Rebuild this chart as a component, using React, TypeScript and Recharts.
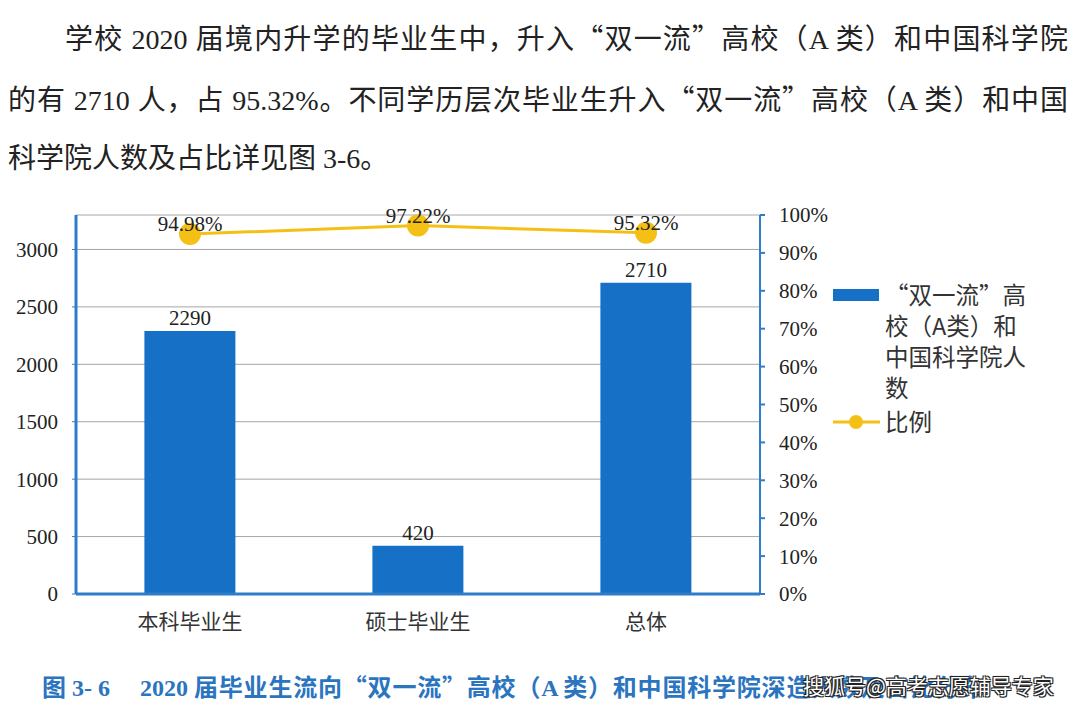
import { ComposedChart, Bar, Line, XAxis, YAxis, CartesianGrid, LabelList } from "recharts";

const categories = ["本科毕业生", "硕士毕业生", "总体"];
const counts = [2290, 420, 2710];
const ratios = [0.9498, 0.9722, 0.9532];
const countTicks = [0, 500, 1000, 1500, 2000, 2500, 3000];
const ratioTicks = [0, 0.1, 0.2, 0.3, 0.4, 0.5, 0.6, 0.7, 0.8, 0.9, 1];

const data = categories.map((name, i) => ({ name, count: counts[i], ratio: ratios[i] }));

const BLUE = "#1570c6";
const AXIS = "#2f7dc8";
const GOLD = "#f5c016";
const SERIF = "'Liberation Serif', 'Noto Sans CJK SC', serif";
const SANS = "'Noto Sans CJK SC', sans-serif";

const pct = (v: number) => `${(v * 100).toFixed(2)}%`;

// full-width quotes need the CJK font
const Q = ({ children }: { children: string }) => <span style={{ fontFamily: SANS }}>{children}</span>;

function LegendBox() {
  return (
    <div style={{ position: "absolute", left: 833, top: 279, fontFamily: SANS, fontSize: 23.5, color: "#333", lineHeight: "31px" }}>
      <div style={{ display: "flex", alignItems: "flex-start" }}>
        <div style={{ width: 46, height: 12, background: BLUE, marginTop: 10, marginRight: 6 }} />
        <div>
          “双一流”高<br />校（A类）和<br />中国科学院人<br />数
        </div>
      </div>
      <div style={{ display: "flex", alignItems: "center", marginTop: 3 }}>
        <svg width={47} height={20} style={{ marginRight: 5 }}>
          <line x1={0} y1={10} x2={47} y2={10} stroke={GOLD} strokeWidth={3} />
          <circle cx={23} cy={10} r={7} fill={GOLD} />
        </svg>
        <span>比例</span>
      </div>
    </div>
  );
}

export default function App() {
  return (
    <div style={{ position: "fixed", left: 0, top: 0, width: 1080, height: 705, background: "#fff", overflow: "hidden" }}>
      {/* paragraph */}
      <div style={{ position: "absolute", left: 8, top: 8, width: 1060, fontFamily: SERIF, fontSize: 28, lineHeight: "58px", color: "#222" }}>
        <div style={{ paddingLeft: 57, textAlign: "justify", textAlignLast: "justify" }}>
          学校 2020 届境内升学的毕业生中，升入<Q>“</Q>双一流<Q>”</Q>高校（A 类）和中国科学院
        </div>
        <div style={{ textAlign: "justify", textAlignLast: "justify" }}>
          的有 2710 人，占 95.32%。不同学历层次毕业生升入<Q>“</Q>双一流<Q>”</Q>高校（A 类）和中国
        </div>
        <div>科学院人数及占比详见图 3-6。</div>
      </div>

      <div style={{ position: "absolute", left: 0, top: 195 }}>
        <ComposedChart width={830} height={460} data={data} margin={{ top: 20, right: 0, bottom: 0, left: 0 }} barCategoryGap="30%">
          <CartesianGrid yAxisId="left" vertical={false} stroke="#a6a6a6" strokeWidth={1} />
          <XAxis
            dataKey="name"
            height={61}
            axisLine={{ stroke: AXIS, strokeWidth: 3 }}
            tickLine={false}
            tickMargin={14}
            tick={{ fill: "#333", fontSize: 21, fontFamily: SANS }}
          />
          <YAxis
            yAxisId="left"
            width={76}
            domain={[0, 3300]}
            ticks={countTicks}
            interval={0}
            axisLine={{ stroke: AXIS, strokeWidth: 3 }}
            tickLine={{ stroke: AXIS }}
            tickSize={4}
            tickMargin={14}
            tick={{ fill: "#222", fontSize: 21, fontFamily: SERIF }}
          />
          <YAxis
            yAxisId="right"
            orientation="right"
            width={70}
            domain={[0, 1]}
            ticks={ratioTicks}
            interval={0}
            tickFormatter={(v: number) => `${Math.round(v * 100)}%`}
            axisLine={{ stroke: AXIS, strokeWidth: 2 }}
            tickLine={{ stroke: AXIS, strokeWidth: 2 }}
            tickSize={5}
            tickMargin={14}
            tick={{ fill: "#222", fontSize: 21, fontFamily: SERIF, textAnchor: "start" }}
          />
          <Bar yAxisId="left" dataKey="count" fill={BLUE} isAnimationActive={false}>
            <LabelList dataKey="count" position="top" offset={6} fill="#222" fontSize={21} fontFamily={SERIF} />
          </Bar>
          <Line
            yAxisId="right"
            dataKey="ratio"
            stroke={GOLD}
            strokeWidth={3}
            dot={{ r: 11, fill: GOLD, stroke: GOLD, strokeWidth: 0 }}
            activeDot={false}
            isAnimationActive={false}
          >
            <LabelList dataKey="ratio" position="top" offset={3} formatter={(v: any) => pct(Number(v))} fill="#222" fontSize={21} fontFamily={SERIF} />
          </Line>
        </ComposedChart>
      </div>

      <LegendBox />

      {/* caption */}
      <div style={{ position: "absolute", left: 42, top: 670, fontFamily: SERIF, fontWeight: 700, fontSize: 24, lineHeight: "32px", color: "#2b74c0", whiteSpace: "nowrap" }}>
        <span style={{ fontFamily: SANS }}>图</span> 3- 6<span style={{ display: "inline-block", width: 30 }} />2020{" "}
        <span style={{ fontFamily: SANS, letterSpacing: 0.8 }}>届毕业生流向“双一流”高校（</span>A{" "}
        <span style={{ fontFamily: SANS, letterSpacing: 0.8 }}>类）和中国科学院深造人数及占比分布</span>
      </div>
      <div
        style={{
          position: "absolute",
          left: 803,
          top: 670,
          fontFamily: SANS,
          fontSize: 21,
          lineHeight: "30px",
          color: "#fff",
          whiteSpace: "nowrap",
          textShadow: "-1px -1px 0 #222, 1px -1px 0 #222, -1px 1px 0 #222, 1px 1px 0 #222, 0 0 2px #222",
        }}
      >
        搜狐号@高考志愿辅导专家
      </div>
    </div>
  );
}
